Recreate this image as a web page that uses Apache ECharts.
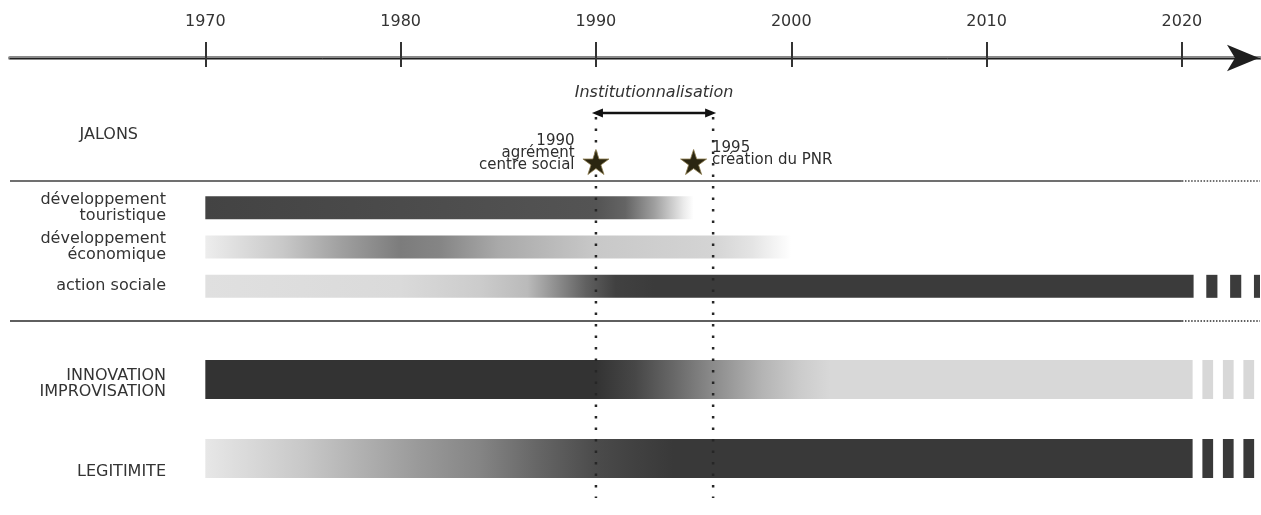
<!DOCTYPE html>
<html>
<head>
<meta charset="utf-8">
<style>
html, body {
  margin: 0;
  padding: 0;
  background: #fff;
}
#chart {
  width: 1261px;
  height: 515px;
}
</style>
</head>
<body>
<div id="chart"></div>
<script src="https://cdn.jsdelivr.net/npm/echarts@6/dist/echarts.min.js"></script>
<script>
// timeline
const tickYears = [1970, 1980, 1990, 2000, 2010, 2020]
const presentYear = 2020

// jalons
const jalonYears = [1990, 1995]
const jalonLabels = ['1990\nagrément\ncentre social', '1995\ncréation du PNR']
const institutionPeriod = [1990, 1996]
const institutionLabel = 'Institutionnalisation'

// activités : intensité (0 = absent, 1 = fort) au fil des années
const activityRows = ['développement\ntouristique', 'développement\néconomique', 'action sociale']
const activityStart = [1970, 1970, 1970]
const activityEnd = [1995, 2000, 2020.6]
const activityOngoing = [false, false, true]
const activityIntensity = [
  [[1970, 0.92], [1980, 0.88], [1990, 0.84], [1991.5, 0.76], [1993, 0.47], [1994.5, 0.1], [1995, 0]],
  [[1970, 0.09], [1974, 0.27], [1977, 0.47], [1980, 0.64], [1982, 0.6], [1985, 0.42], [1990, 0.27], [1996, 0.21], [1998, 0.13], [2000, 0]],
  [[1970, 0.15], [1980, 0.18], [1984, 0.25], [1986.5, 0.34], [1988, 0.56], [1989.5, 0.78], [1991, 0.93], [1993, 0.96], [2020.6, 0.96]]
]

// postures
const stanceRows = ['INNOVATION\nIMPROVISATION', 'LEGITIMITE']
const stanceStart = [1970, 1970]
const stanceEnd = [2020.55, 2020.55]
const stanceOngoing = [true, true]
const stanceIntensity = [
  [[1970, 1], [1990, 1], [1992, 0.9], [1994, 0.74], [1996, 0.57], [1998.5, 0.37], [2000.5, 0.25], [2002, 0.19], [2020.55, 0.19]],
  [[1970, 0.12], [1975, 0.27], [1981, 0.5], [1984, 0.6], [1987, 0.75], [1990, 0.88], [1992, 0.93], [1994, 0.97], [2020.55, 0.97]]
]

const FONT = 'DejaVu Sans'
const AXIS_MIN = 1960
const AXIS_MAX = 2024
const starPath = 'path://M50,0 L61.8,36.2 L100,36.2 L69.1,58.6 L80.9,95.1 L50,72.6 L19.1,95.1 L30.9,58.6 L0,36.2 L38.2,36.2 Z'

function gray (v) {
  const g = Math.round(255 - v * 204)
  return `rgb(${g},${g},${g})`
}

function hiddenX (gridIndex) {
  return { type: 'value', gridIndex, min: AXIS_MIN, max: AXIS_MAX, show: false }
}

function rowRenderer (intensity, ongoing, barHeight, gap, dash) {
  return function (params, api) {
    const i = params.dataIndex
    const start = api.value(0)
    const end = api.value(1)
    const row = api.value(2)
    const p0 = api.coord([start, row])
    const p1 = api.coord([end, row])
    const stops = intensity[i].map(([year, v]) => ({
      offset: (year - start) / (end - start),
      color: gray(v)
    }))
    const top = p0[1] - barHeight / 2
    const children = [{
      type: 'rect',
      shape: { x: p0[0], y: top, width: p1[0] - p0[0], height: barHeight },
      style: { fill: new echarts.graphic.LinearGradient(0, 0, 1, 0, stops) }
    }]
    if (ongoing[i]) {
      const last = stops[stops.length - 1].color
      for (let y = end + gap; y < AXIS_MAX; y += gap + dash) {
        const a = api.coord([y, row])[0]
        const b = api.coord([Math.min(y + dash, AXIS_MAX), row])[0]
        children.push({
          type: 'rect',
          shape: { x: a, y: top, width: b - a, height: barHeight },
          style: { fill: last }
        })
      }
    }
    return { type: 'group', children }
  }
}

function separatorRenderer (yOf, color, width) {
  return function (params, api) {
    const y = yOf(params.coordSys)
    const a = api.coord([api.value(0), 0])[0]
    const b = api.coord([api.value(1), 0])[0]
    const c = api.coord([api.value(2), 0])[0]
    return {
      type: 'group',
      children: [
        { type: 'line', shape: { x1: a, y1: y, x2: b, y2: y }, style: { stroke: color, lineWidth: width } },
        { type: 'line', shape: { x1: b, y1: y, x2: c, y2: y }, style: { stroke: color, lineWidth: width, lineDash: [1.5, 1.6] } }
      ]
    }
  }
}

const labelText = { fontFamily: FONT, fontSize: 16, lineHeight: 16, color: '#333' }

const chart = echarts.init(document.getElementById('chart'))

const option = {
  animation: false,
  grid: [
    { left: 10, right: 1, top: 89, height: 92, containLabel: false, outerBoundsMode: 'none' },
    { left: 10, right: 1, top: 188, height: 118, containLabel: false, outerBoundsMode: 'none' },
    { left: 10, right: 1, top: 340, height: 158, containLabel: false, outerBoundsMode: 'none' },
    { left: 10, right: 1, top: 117, bottom: 17, containLabel: false, outerBoundsMode: 'none' }
  ],
  xAxis: [
    {
      type: 'value',
      gridIndex: 0,
      position: 'top',
      offset: 31,
      min: AXIS_MIN,
      max: AXIS_MAX,
      splitLine: { show: false },
      axisLine: { show: true, lineStyle: { color: '#8a8a8a', width: 4 } },
      axisTick: { show: true, length: 16, customValues: tickYears, lineStyle: { color: '#333', width: 2 } },
      axisLabel: { show: true, customValues: tickYears, margin: 28, formatter: v => String(v), ...labelText }
    },
    {
      type: 'value',
      gridIndex: 0,
      position: 'top',
      offset: 31,
      min: AXIS_MIN,
      max: AXIS_MAX,
      splitLine: { show: false },
      axisLine: {
        show: true,
        symbol: ['none', 'arrow'],
        symbolSize: [20, 32],
        symbolOffset: [0, -1],
        lineStyle: { color: '#1e1e1e', width: 1 }
      },
      axisTick: { show: true, inside: true, length: 9, customValues: tickYears, lineStyle: { color: '#333', width: 2 } },
      axisLabel: { show: false }
    },
    hiddenX(1),
    hiddenX(2),
    hiddenX(3)
  ],
  yAxis: [
    {
      type: 'category',
      gridIndex: 0,
      data: ['JALONS'],
      offset: -128,
      axisLine: { show: false },
      axisTick: { show: false },
      axisLabel: { margin: 0, ...labelText }
    },
    {
      type: 'category',
      gridIndex: 1,
      inverse: true,
      data: activityRows,
      offset: -156,
      axisLine: { show: false },
      axisTick: { show: false },
      axisLabel: { margin: 0, padding: [0, 0, 5, 0], ...labelText }
    },
    {
      type: 'category',
      gridIndex: 2,
      inverse: true,
      data: stanceRows,
      offset: -156,
      axisLine: { show: false },
      axisTick: { show: false },
      axisLabel: {
        margin: 0,
        padding: [8, 0, 0, 0],
        ...labelText,
        formatter: (v, i) => i === 1 ? `{low|${v}}` : v,
        rich: { low: { ...labelText, padding: [18, 0, 0, 0] } }
      }
    },
    { type: 'value', gridIndex: 3, min: 0, max: 1, show: false }
  ],
  series: [
    {
      name: 'séparateur jalons',
      type: 'custom',
      xAxisIndex: 0,
      yAxisIndex: 0,
      encode: { x: [0, 1, 2], y: 3 },
      data: [[AXIS_MIN, presentYear, AXIS_MAX, 0]],
      renderItem: separatorRenderer(cs => cs.y + cs.height, '#707070', 2)
    },
    {
      name: 'séparateur postures',
      type: 'custom',
      xAxisIndex: 3,
      yAxisIndex: 2,
      encode: { x: [0, 1, 2], y: 3 },
      data: [[AXIS_MIN, presentYear, AXIS_MAX, 0]],
      renderItem: separatorRenderer(cs => cs.y - 19, '#2a2a2a', 1.5)
    },
    {
      name: 'institutionnalisation',
      type: 'custom',
      xAxisIndex: 0,
      yAxisIndex: 0,
      encode: { x: [0, 1], y: 2 },
      data: [[institutionPeriod[0], institutionPeriod[1], 0]],
      renderItem: function (params, api) {
        const cs = params.coordSys
        const y = cs.y + 24
        const a = api.coord([api.value(0), 0])[0] - 4
        const b = api.coord([api.value(1), 0])[0] + 3
        return {
          type: 'group',
          children: [
            { type: 'line', shape: { x1: a + 6, y1: y, x2: b - 6, y2: y }, style: { stroke: '#111', lineWidth: 2.5 } },
            { type: 'polygon', shape: { points: [[a, y], [a + 11, y - 4.5], [a + 11, y + 4.5]] }, style: { fill: '#111' } },
            { type: 'polygon', shape: { points: [[b, y], [b - 11, y - 4.5], [b - 11, y + 4.5]] }, style: { fill: '#111' } },
            {
              type: 'text',
              style: {
                text: institutionLabel,
                x: (a + b) / 2,
                y: cs.y + 4,
                align: 'center',
                verticalAlign: 'middle',
                fontFamily: FONT,
                fontSize: 16,
                fontStyle: 'italic',
                fill: '#333'
              }
            }
          ]
        }
      }
    },
    {
      name: 'activités',
      type: 'custom',
      xAxisIndex: 2,
      yAxisIndex: 1,
      encode: { x: [0, 1], y: 2 },
      data: activityRows.map((name, i) => [activityStart[i], activityEnd[i], i]),
      renderItem: rowRenderer(activityIntensity, activityOngoing, 23, 0.65, 0.57)
    },
    {
      name: 'postures',
      type: 'custom',
      xAxisIndex: 3,
      yAxisIndex: 2,
      encode: { x: [0, 1], y: 2 },
      data: stanceRows.map((name, i) => [stanceStart[i], stanceEnd[i], i]),
      renderItem: rowRenderer(stanceIntensity, stanceOngoing, 39, 0.5, 0.55)
    },
    {
      name: 'période',
      type: 'custom',
      xAxisIndex: 4,
      yAxisIndex: 3,
      z: 5,
      encode: { x: 0 },
      data: institutionPeriod.map(y => [y]),
      renderItem: function (params, api) {
        const cs = params.coordSys
        const x = api.coord([api.value(0), 0])[0]
        return {
          type: 'line',
          shape: { x1: x, y1: cs.y, x2: x, y2: cs.y + cs.height },
          style: { stroke: '#262626', lineWidth: 2.5, lineDash: [2.5, 9] }
        }
      }
    },
    {
      name: 'jalons',
      type: 'scatter',
      xAxisIndex: 0,
      yAxisIndex: 0,
      z: 6,
      symbol: starPath,
      symbolSize: [26, 25],
      symbolOffset: [0, 27],
      itemStyle: { color: '#2b2611', borderColor: '#8c7b4c', borderWidth: 0.8, opacity: 1 },
      data: jalonYears.map((year, i) => ({
        value: [year, 0],
        label: {
          show: true,
          formatter: jalonLabels[i],
          position: i === 0 ? 'left' : 'right',
          distance: i === 0 ? 8 : 5,
          align: i === 0 ? 'right' : 'left',
          verticalAlign: 'bottom',
          offset: [0, i === 0 ? 9 : 4],
          fontFamily: FONT,
          fontSize: 15,
          lineHeight: 12,
          color: '#2e2e2e'
        }
      }))
    }
  ]
}

chart.setOption(option)
</script>
</body>
</html>
